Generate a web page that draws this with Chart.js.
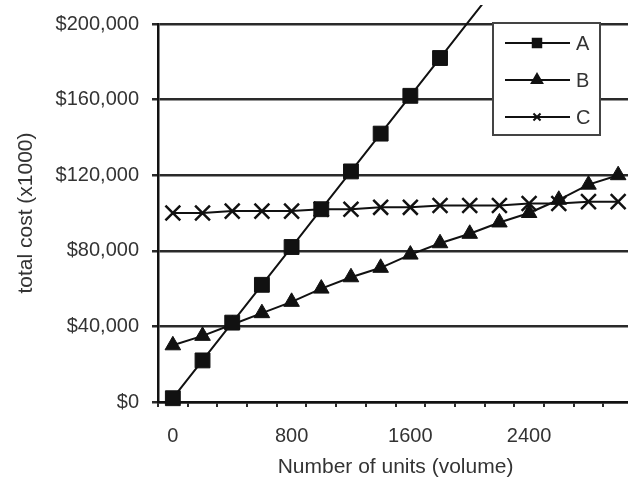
<!DOCTYPE html>
<html>
<head>
<meta charset="utf-8">
<script src="https://cdn.jsdelivr.net/npm/chart.js@4/dist/chart.umd.min.js"></script>
<style>
  html, body { margin: 0; padding: 0; overflow: hidden; background: #fff; }
  #wrap { width: 634px; height: 484px; }
</style>
</head>
<body>
<div id="wrap"><canvas id="chart" width="634" height="484"></canvas></div>
<script>
// volume categories (every 200 units), only every 4th one gets a label
const units = [`0`, `200`, `400`, `600`, `800`, `1000`, `1200`, `1400`, `1600`, `1800`, `2000`, `2200`, `2400`, `2600`, `2800`, `3000`];
const labelEvery = 4;

// total cost per option
const costA = [2000, 22000, 42000, 62000, 82000, 102000, 122000, 142000, 162000, 182000, 202000, 222000, 242000, 262000, 282000, 302000];
const costB = [30000, 35000, 41000, 47000, 53000, 60000, 66000, 71000, 78000, 84000, 89000, 95000, 100000, 107000, 115000, 120000];
const costC = [100000, 100000, 101000, 101000, 101000, 102000, 102000, 103000, 103000, 104000, 104000, 104000, 105000, 105000, 106000, 106000];

const seriesNames = [`A`, `B`, `C`];
const yTicks = [0, 40000, 80000, 120000, 160000, 200000];

const textColor = `#333`;
const lineColor = `#111`;
const gridColor = `#2a2a2a`;
const fontFamily = `"Liberation Sans", Arial, sans-serif`;
const yMax = yTicks[yTicks.length - 1];

// legend sits in a white box inside the plot, top right
const legendBox = {
  id: `legendBox`,
  afterDraw(chart) {
    const ctx = chart.ctx;
    const radii = [6, 6, 5];
    ctx.save();
    ctx.fillStyle = `#fff`;
    ctx.fillRect(493, 23, 107, 112);
    ctx.strokeStyle = `#444`;
    ctx.lineWidth = 2;
    ctx.strokeRect(493, 23, 107, 112);
    chart.data.datasets.forEach((ds, i) => {
      const cy = 43 + i * 37;
      ctx.strokeStyle = lineColor;
      ctx.fillStyle = lineColor;
      ctx.lineWidth = 2;
      ctx.beginPath();
      ctx.moveTo(505, cy);
      ctx.lineTo(570, cy);
      ctx.stroke();
      Chart.helpers.drawPoint(ctx, {pointStyle: ds.pointStyle, radius: radii[i], borderWidth: 1.5, rotation: 0}, 537, cy);
      ctx.fillStyle = textColor;
      ctx.font = `20px ${fontFamily}`;
      ctx.textBaseline = `middle`;
      ctx.textAlign = `left`;
      ctx.fillText(ds.label, 576, cy + 1);
    });
    ctx.restore();
  }
};

const baseSet = {
  borderColor: lineColor,
  backgroundColor: lineColor,
  pointBackgroundColor: lineColor,
  pointBorderColor: lineColor,
  borderWidth: 2,
  tension: 0,
};

// eslint-disable-next-line no-unused-vars
const costChart = new Chart(document.getElementById(`chart`), {
  type: `line`,
  data: {
    labels: units,
    datasets: [
      {
        ...baseSet,
        label: seriesNames[0],
        data: costA,
        pointStyle: `rect`,
        pointRadius: (c) => (c.raw > yMax ? 0 : 10.5),
        pointBorderWidth: 1,
        clip: {left: 5, top: 19, right: 5, bottom: 5},
      },
      {
        ...baseSet,
        label: seriesNames[1],
        data: costB,
        pointStyle: `triangle`,
        pointRadius: 9,
        pointBorderWidth: 1,
      },
      {
        ...baseSet,
        label: seriesNames[2],
        data: costC,
        pointStyle: `crossRot`,
        pointRadius: 10.5,
        pointBorderWidth: 2.5,
      },
    ]
  },
  options: {
    responsive: false,
    animation: false,
    layout: {autoPadding: false, padding: {left: 0, top: 24, right: 1, bottom: 0}},
    plugins: {
      legend: {display: false},
      tooltip: {enabled: false},
    },
    scales: {
      x: {
        type: `category`,
        offset: true,
        afterFit(scale) {
          scale.height = 82;
          scale.paddingLeft = 0;
          scale.paddingRight = 0;
        },
        grid: {
          offset: true,
          drawOnChartArea: false,
          color: gridColor,
          lineWidth: 2,
          tickLength: 5,
        },
        border: {color: lineColor, width: 2.5},
        ticks: {
          autoSkip: false,
          maxRotation: 0,
          padding: 17,
          color: textColor,
          font: {family: fontFamily, size: 20},
          callback(value, index) {
            return index % labelEvery === 0 ? this.getLabelForValue(value) : ``;
          },
        },
        title: {
          display: true,
          text: `Number of units (volume)`,
          color: textColor,
          font: {family: fontFamily, size: 21},
          padding: {top: 0, bottom: 4},
        },
      },
      y: {
        min: yTicks[0],
        max: yMax,
        afterFit(scale) {
          scale.width = 158;
          scale.paddingTop = 0;
          scale.paddingBottom = 0;
        },
        grid: {
          color: gridColor,
          lineWidth: 2.5,
          tickLength: 6,
        },
        border: {color: lineColor, width: 2.5},
        ticks: {
          stepSize: yTicks[1] - yTicks[0],
          padding: 13,
          color: textColor,
          font: {family: fontFamily, size: 20},
          callback: (v) => `$` + v.toLocaleString(`en-US`),
        },
        title: {
          display: true,
          text: `total cost (x1000)`,
          color: textColor,
          font: {family: fontFamily, size: 21},
          padding: {top: 14, bottom: 0},
        },
      },
    },
  },
  plugins: [legendBox],
});
</script>
</body>
</html>
